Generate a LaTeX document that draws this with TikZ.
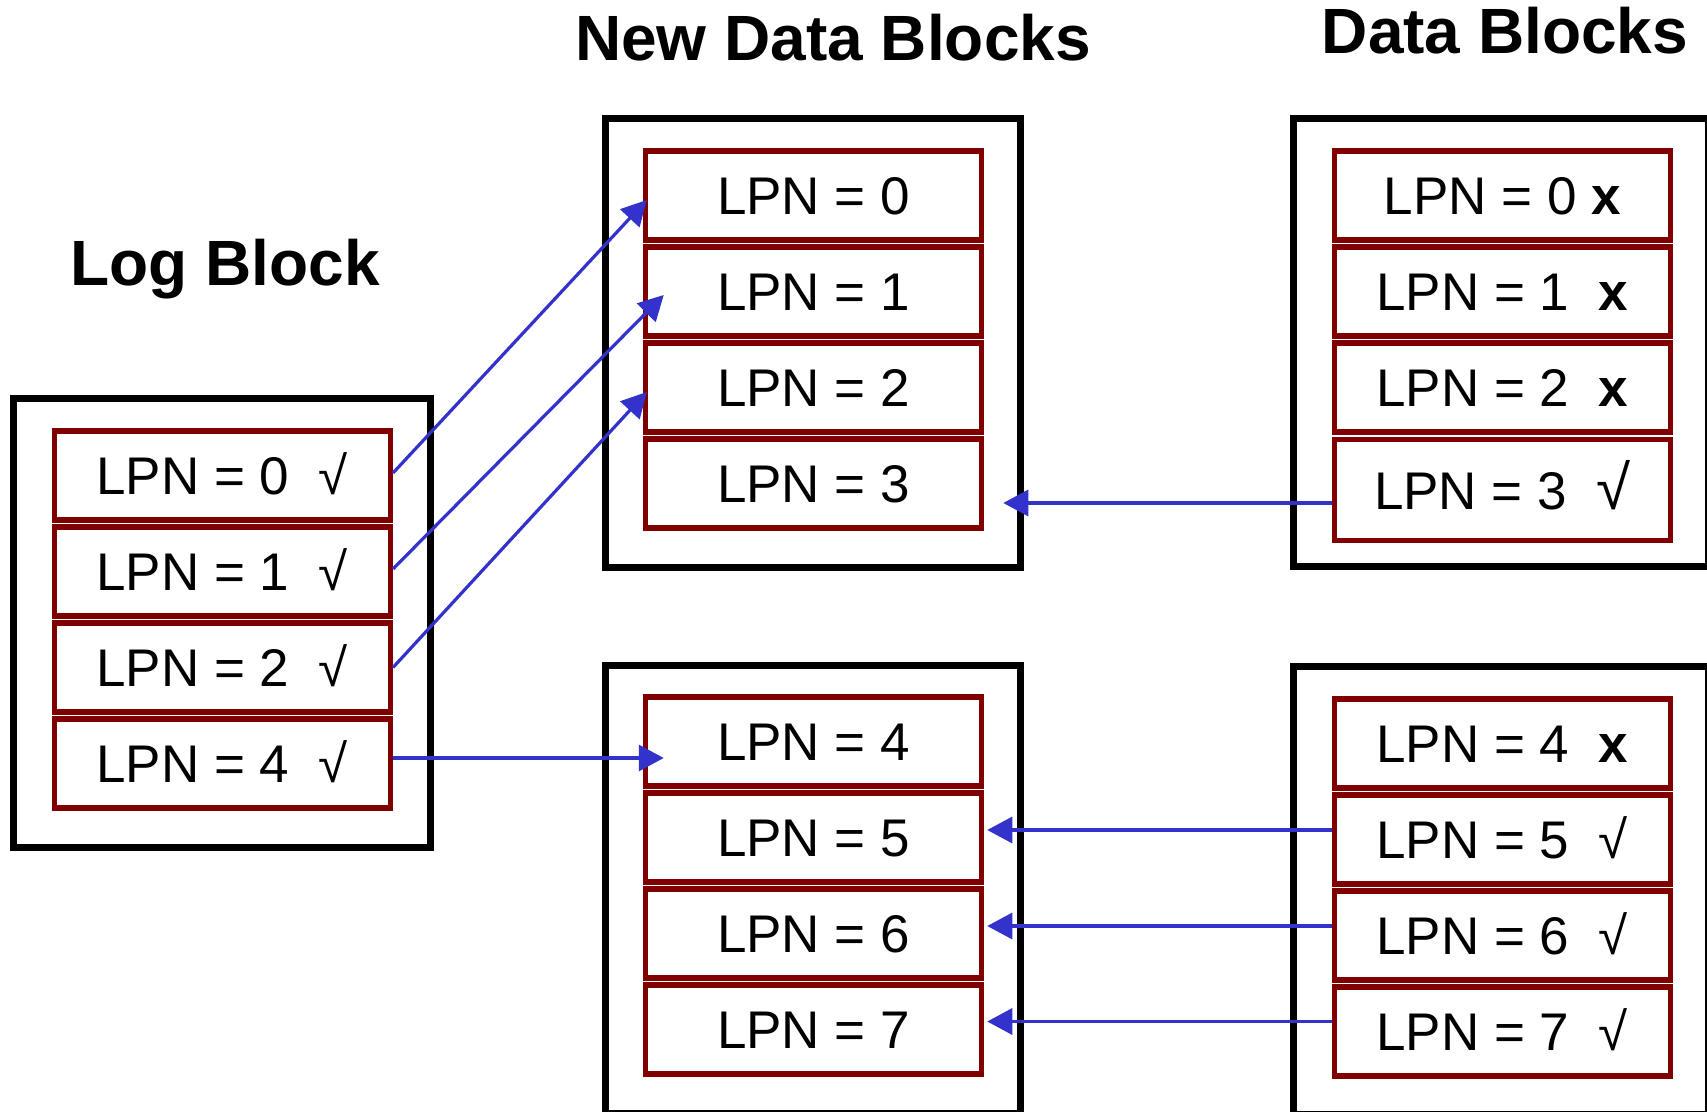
\documentclass[tikz,border=0pt]{standalone}
\usepackage{fontspec}
\setmainfont{Liberation Sans}
\usetikzlibrary{arrows.meta}
\definecolor{boxred}{HTML}{800000}
\definecolor{arrblue}{HTML}{3333CC}
\begin{document}
\begin{tikzpicture}[x=0.5pt,y=-0.5pt,
  outer/.style={draw=black,line width=3.5pt,minimum width=207.5pt,minimum height=224pt,inner sep=0pt},
  cell/.style={draw=boxred,line width=2.75pt,minimum width=168pt,minimum height=44.5pt,inner sep=0pt,
    font=\fontsize{26.5pt}{30pt}\selectfont,text height=19pt,text depth=0pt},
  title/.style={font=\fontsize{32pt}{36pt}\selectfont\bfseries,anchor=base,inner sep=0pt},
  arr/.style={draw=arrblue,line width=1.6pt,-{Triangle[length=12.5pt,width=13pt]}}]
\useasboundingbox (0,0) rectangle (1707,1112);
\clip (0,0) rectangle (1707,1112);

% titles
\node[title] (tlog) at (225,286) {Log Block};
\node[title] (tnew) at (833,61) {New Data Blocks};
\node[title] (tdata) at (1505,54) {Data Blocks};

% outer blocks
\node[outer,minimum width=208.5pt] (logb) at (221.5,623) {};
\node[outer] (newa) at (813,343) {};
\node[outer] (newb) at (813,889.25) {};
\node[outer] (data) at (1500.5,342.5) {};
\node[outer] (datb) at (1500.5,890.5) {};

% log block cells
\node[cell] (l0) at (222.25,475.5) {LPN = 0~~√};
\node[cell] (l1) at (222.25,571.5) {LPN = 1~~√};
\node[cell] (l2) at (222.25,667.5) {LPN = 2~~√};
\node[cell] (l3) at (222.25,763.5) {LPN = 4~~√};

% new data blocks
\node[cell] (n0) at (813.5,195.5) {LPN = 0};
\node[cell] (n1) at (813.5,291.5) {LPN = 1};
\node[cell] (n2) at (813.5,387.5) {LPN = 2};
\node[cell] (n3) at (813.5,483.5) {LPN = 3};
\node[cell] (n4) at (813.5,741.5) {LPN = 4};
\node[cell] (n5) at (813.5,837.5) {LPN = 5};
\node[cell] (n6) at (813.5,933.5) {LPN = 6};
\node[cell] (n7) at (813.5,1029.5) {LPN = 7};

% data blocks
\node[cell] (d0) at (1502.25,195.75) {LPN = 0 \textbf{x}};
\node[cell] (d1) at (1502.25,291.5) {LPN = 1~~\textbf{x}};
\node[cell] (d2) at (1502.25,387.5) {LPN = 2~~\textbf{x}};
\node[cell,minimum height=50.5pt] (d3) at (1502.25,490) {LPN = 3~~{\fontsize{31pt}{34pt}\selectfont √}};
\node[cell] (e0) at (1502.25,743.5) {LPN = 4~~\textbf{x}};
\node[cell] (e1) at (1502.25,839.5) {LPN = 5~~√};
\node[cell] (e2) at (1502.25,935.5) {LPN = 6~~√};
\node[cell] (e3) at (1502.25,1031.5) {LPN = 7~~√};

% arrows
\draw[arr] ([yshift=1.25pt]l0.east) -- ([xshift=2pt,yshift=-2.25pt]n0.west);
\draw[arr] ([yshift=1.25pt]l1.east) -- ([xshift=10.5pt,yshift=-1.75pt]n1.west);
\draw[arr] (l2.east) -- ([xshift=2pt,yshift=-2.25pt]n2.west);
\draw[arr] ([yshift=2.75pt]l3.east) -- ([xshift=10.5pt,yshift=-8.25pt]n4.west);
\draw[arr] ([yshift=-6.5pt]d3.west) -- ([xshift=9.5pt,yshift=-9.75pt]n3.east);
\draw[arr] ([yshift=4.75pt]e1.west) -- ([xshift=1.5pt,yshift=3.75pt]n5.east);
\draw[arr] ([yshift=4.75pt]e2.west) -- ([xshift=1.5pt,yshift=3.75pt]n6.east);
\draw[arr] ([yshift=5pt]e3.west) -- ([xshift=1.5pt,yshift=4pt]n7.east);
\end{tikzpicture}
\end{document}
